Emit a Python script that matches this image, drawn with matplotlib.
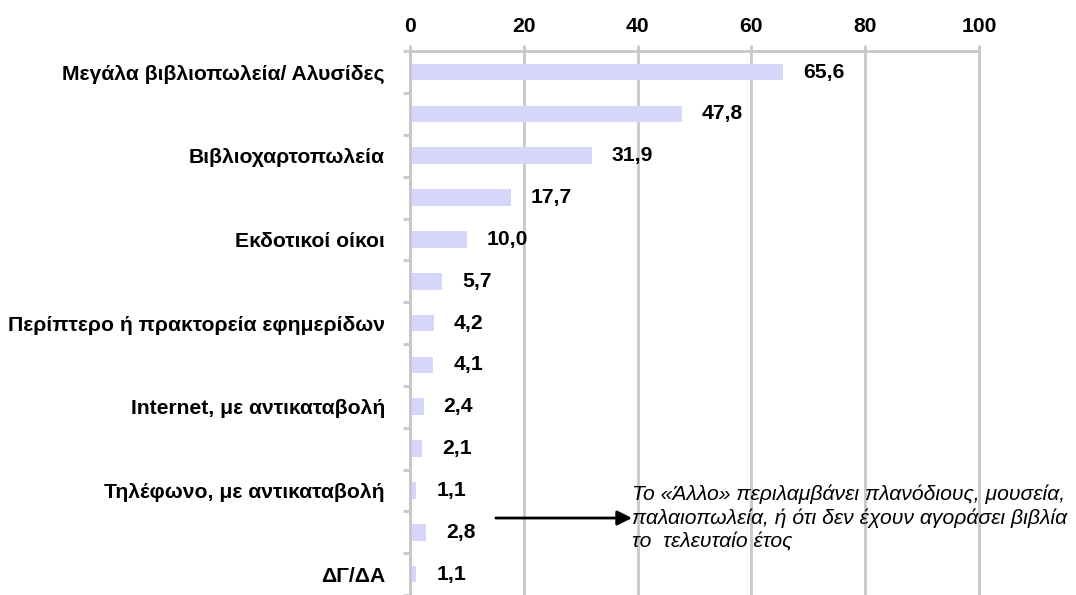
import numpy as np
import matplotlib.pyplot as plt

plt.rcParams['font.family'] = ['Liberation Sans', 'DejaVu Sans']

labels = ['Μεγάλα βιβλιοπωλεία/ Αλυσίδες', '', 'Βιβλιοχαρτοπωλεία', '',
          'Εκδοτικοί οίκοι', '', 'Περίπτερο ή πρακτορεία εφημερίδων', '',
          'Internet, με αντικαταβολή', '', 'Τηλέφωνο, με αντικαταβολή', '',
          'ΔΓ/ΔΑ']
values = [65.6, 47.8, 31.9, 17.7, 10.0, 5.7, 4.2, 4.1, 2.4, 2.1, 1.1, 2.8, 1.1]
xticks = [0, 20, 40, 60, 80, 100]
note = ('Το «Άλλο» περιλαμβάνει πλανόδιους, μουσεία,\n'
        'παλαιοπωλεία, ή ότι δεν έχουν αγοράσει βιβλία\n'
        'το  τελευταίο έτος')

grid_c = '#c8c8c8'
fs = 15.2
fig = plt.figure(figsize=(10.76, 5.95), dpi=100)
ax = fig.add_axes([0.381, 0.0, 0.529, 0.914])

y = np.arange(len(values))
ax.barh(y, values, height=0.4, color='#d6d6fa', zorder=2)
for yi, v in zip(y, values):
    ax.text(v + 3.5, yi, f'{v:.1f}'.replace('.', ','), va='center', ha='left',
            fontsize=fs, fontweight='bold', zorder=3)

ax.set_xlim(0, 100)
ax.set_ylim(12.33, -0.5)
ax.xaxis.tick_top()
ax.set_xticks(xticks)
ax.set_xticklabels([str(t) for t in xticks], fontsize=fs, fontweight='bold')
ax.tick_params(axis='x', length=4, color=grid_c, width=2, pad=7)
ax.grid(axis='x', color=grid_c, linewidth=2, zorder=1)
for gl in ax.get_xgridlines():
    gl.set_clip_on(False)

ax.set_yticks(y)
ax.set_yticklabels(labels, fontsize=fs, fontweight='bold')
ax.tick_params(axis='y', length=0, pad=18)
ax.set_yticks(np.arange(-0.5, 13, 1), minor=True)
ax.tick_params(axis='y', which='minor', length=5, color=grid_c, width=2)

for s in ['right', 'bottom']:
    ax.spines[s].set_visible(False)
for s in ['left', 'top']:
    ax.spines[s].set_color(grid_c)
    ax.spines[s].set_linewidth(2)

# arrow pointing to the note about "Άλλο"
ax.annotate('', xy=(39.5, 10.66), xytext=(14.6, 10.66),
            arrowprops=dict(arrowstyle='-|>', color='black', lw=2,
                            mutation_scale=22), zorder=4)
ax.text(39.0, 10.66, note, fontsize=fs, style='italic', va='center',
        ha='left', linespacing=1.3, zorder=5, clip_on=False)

fig.savefig('out.png', dpi=100)
